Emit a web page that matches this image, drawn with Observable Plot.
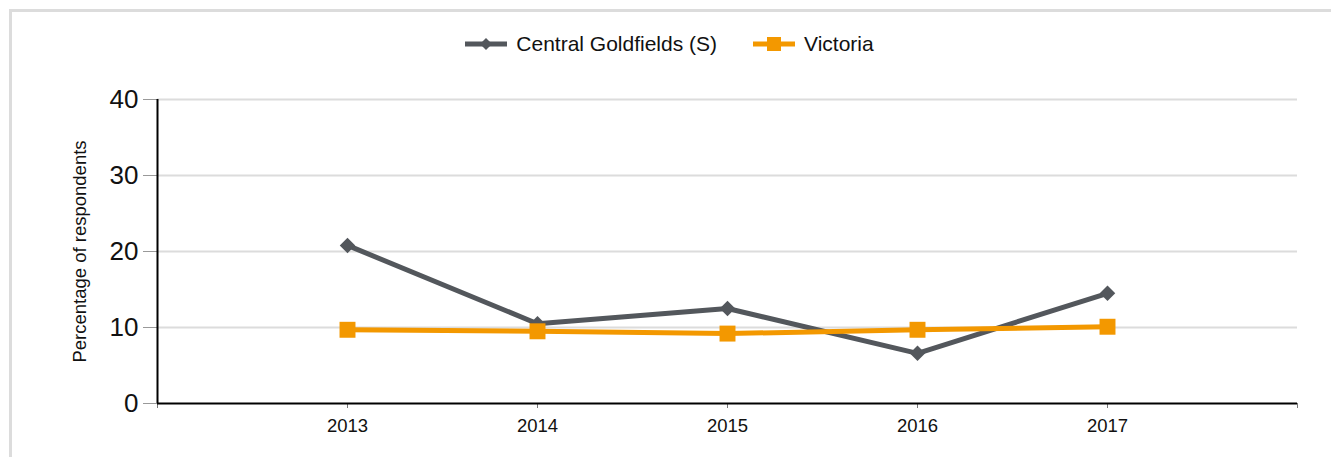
<!DOCTYPE html>
<html>
<head>
<meta charset="utf-8">
<script src="https://cdn.jsdelivr.net/npm/d3@7"></script>
<script src="https://cdn.jsdelivr.net/npm/@observablehq/plot@0.6"></script>
<style>
  html, body { margin: 0; padding: 0; background: #fff; }
  #wrap { position: relative; width: 1331px; height: 457px; overflow: hidden; font-family: "Liberation Sans", Arial, sans-serif; }
  #frame { position: absolute; left: 9px; top: 9px; right: 0; bottom: -10px; border-top: 3px solid #dcdcdc; border-left: 3px solid #dcdcdc; }
  #legend { position: absolute; left: 0; top: 31px; width: 1331px; display: flex; justify-content: center; gap: 36px; font-size: 21px; color: #111; padding-left: 8px; box-sizing: border-box; }
  .item { display: flex; align-items: center; gap: 9px; height: 26px; }
  #chart { position: absolute; left: 0; top: 0; }
</style>
</head>
<body>
<div id="wrap">
  <div id="frame"></div>
  <div id="legend"></div>
  <div id="chart"></div>
</div>
<script>
const years = [2013, 2014, 2015, 2016, 2017];
const centralGoldfields = [20.8, 10.5, 12.5, 6.6, 14.5];
const victoria = [9.7, 9.5, 9.2, 9.7, 10.1];
const yTicks = [0, 10, 20, 30, 40];
const seriesNames = ["Central Goldfields (S)", "Victoria"];
const colors = ["#53575c", "#f39800"];

const data = [
  ...years.map((y, i) => ({year: y, value: centralGoldfields[i], series: seriesNames[0]})),
  ...years.map((y, i) => ({year: y, value: victoria[i], series: seriesNames[1]}))
];

// Legend
const legend = document.getElementById("legend");
seriesNames.forEach((name, i) => {
  const item = document.createElement("div");
  item.className = "item";
  const marker = i === 0
    ? `<path d="M21,7 L27,13 L21,19 L15,13 Z" fill="${colors[i]}"/>`
    : `<rect x="14" y="6" width="14" height="14" fill="${colors[i]}"/>`;
  item.innerHTML = `<svg width="42" height="26"><line x1="0" x2="42" y1="13" y2="13" stroke="${colors[i]}" stroke-width="5"/>${marker}</svg><span>${name}</span>`;
  legend.appendChild(item);
});

const chart = Plot.plot({
  width: 1331,
  height: 457,
  marginLeft: 157,
  marginRight: 34,
  marginTop: 99,
  marginBottom: 54,
  style: {fontFamily: "'Liberation Sans', Arial, sans-serif", background: "transparent", color: "#111"},
  x: {domain: [2012, 2018]},
  y: {domain: [0, 40]},
  marks: [
    Plot.ruleY(yTicks.filter(d => d > 0), {stroke: "#dcdcdc", strokeWidth: 2}),
    Plot.axisY({ticks: yTicks, tickSize: 14, tickPadding: 5, fontSize: 26, stroke: "#999", label: null}),
    Plot.axisX({ticks: [2012, ...years, 2018], tickFormat: d => years.includes(d) ? String(d) : "", tickSize: 5, tickPadding: 10, fontSize: 18.5, stroke: "#777", label: null}),
    Plot.ruleX([2012], {stroke: "#000", strokeWidth: 2}),
    Plot.ruleY([0], {stroke: "#000", strokeWidth: 2}),
    Plot.text(["Percentage of respondents"], {frameAnchor: "left", textAnchor: "middle", rotate: -90, dx: -77, fontSize: 18.5, fill: "#111"}),
    Plot.line(data, {x: "year", y: "value", z: "series", stroke: "series", strokeWidth: 5}),
    Plot.dot(data.filter(d => d.series === seriesNames[0]), {x: "year", y: "value", symbol: "diamond2", r: 7, fill: colors[0]}),
    Plot.dot(data.filter(d => d.series === seriesNames[1]), {x: "year", y: "value", symbol: "square", r: 9, fill: colors[1]})
  ],
  color: {domain: seriesNames, range: colors}
});
document.getElementById("chart").appendChild(chart);
</script>
</body>
</html>
